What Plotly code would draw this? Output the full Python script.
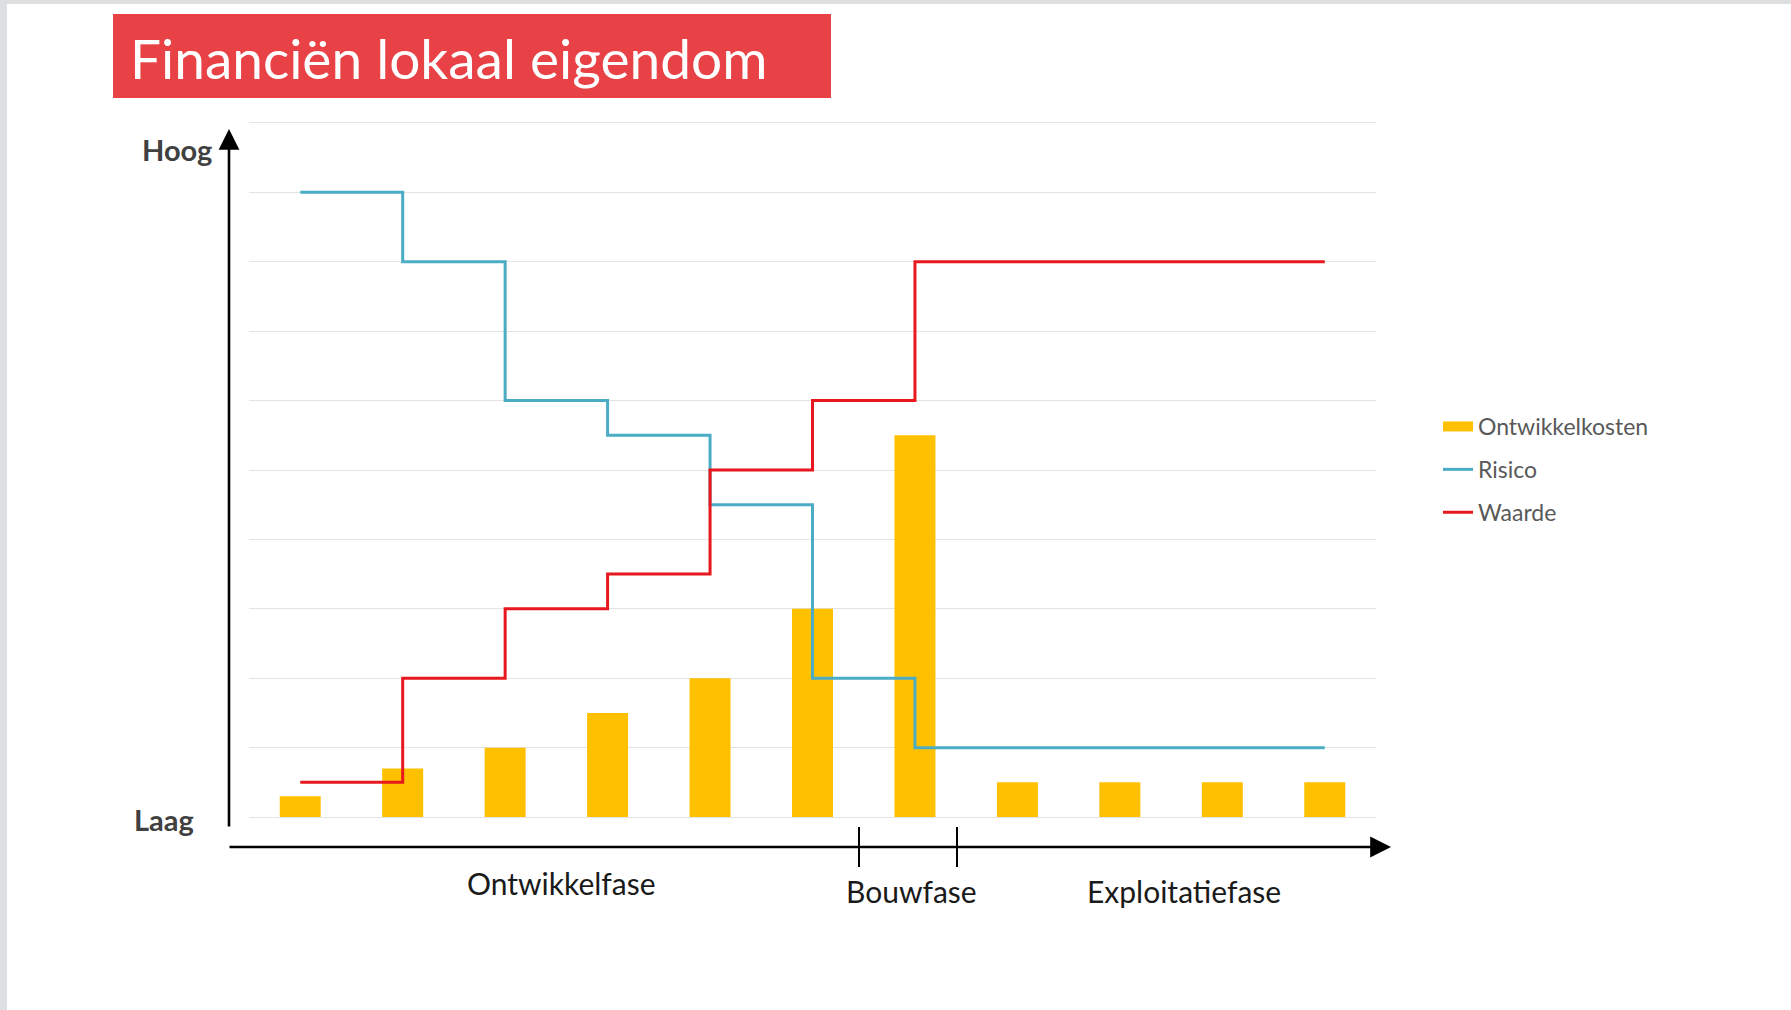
import plotly.graph_objects as go

# ---------------- data ----------------
categories = list(range(11))
ontwikkelkosten = [0.3, 0.7, 1.0, 1.5, 2.0, 3.0, 5.5, 0.5, 0.5, 0.5, 0.5]
risico = [9, 8, 6, 5.5, 4.5, 2, 1, 1, 1, 1, 1]
waarde = [0.5, 2, 3, 3.5, 5, 6, 8, 8, 8, 8, 8]
phase_labels = ["Ontwikkelfase", "Bouwfase", "Exploitatiefase"]
title_text = "Financiën lokaal eigendom"

# ---------------- layout geometry (pixels) ----------------
W, H = 1791, 1010
L, R, T, B = 249, 1376, 116, 824


def px(x):
    return (x - L) / (R - L)


def py(y):
    return (B - y) / (B - T)


FONT = "Lato"
BAR_COLOR = "#FFC000"
fig = go.Figure()
fig.add_trace(go.Bar(
    x=categories, y=ontwikkelkosten, name="Ontwikkelkosten",
    marker=dict(color=BAR_COLOR, line=dict(width=0)), width=0.4,
    legendgroup="a", showlegend=False,
))
# legend-only entry so the swatch is a wide rectangle like the original
fig.add_trace(go.Scatter(
    x=[None], y=[None], name="Ontwikkelkosten", mode="lines",
    line=dict(color=BAR_COLOR, width=11), legendgroup="a", showlegend=True,
))
fig.add_trace(go.Scatter(
    x=categories, y=risico, name="Risico", mode="lines",
    line=dict(color="#4BACC6", width=3, shape="hv"), legendgroup="b",
))
fig.add_trace(go.Scatter(
    x=categories, y=waarde, name="Waarde", mode="lines",
    line=dict(color="#E8191E", width=3, shape="hv"), legendgroup="c",
))

shapes = []
# gray border strips
shapes.append(dict(type="rect", xref="paper", yref="paper", x0=px(0), x1=px(W), y0=py(0), y1=py(4),
                   fillcolor="#DEDFE1", line=dict(width=0), layer="below"))
shapes.append(dict(type="rect", xref="paper", yref="paper", x0=px(0), x1=px(7), y0=py(0), y1=py(H),
                   fillcolor="#DEDFE1", line=dict(width=0), layer="below"))
# title box
shapes.append(dict(type="rect", xref="paper", yref="paper", x0=px(113), x1=px(831), y0=py(98), y1=py(14),
                   fillcolor="#E84146", line=dict(width=0)))
# phase ticks
for xt in (859, 957):
    shapes.append(dict(type="line", xref="paper", yref="paper", x0=px(xt), x1=px(xt), y0=py(827), y1=py(867),
                       line=dict(color="#000000", width=2)))

annotations = []
annotations.append(dict(xref="paper", yref="paper", x=px(128), y=py(58), text=title_text, showarrow=False,
                        xanchor="left", yanchor="middle", font=dict(family=FONT, size=55, color="#FFFFFF")))
# axis arrows
annotations.append(dict(xref="paper", yref="paper", x=px(229), y=py(129), ax=0, ay=699, text="",
                        showarrow=True, arrowhead=2, arrowsize=1.6, arrowwidth=2.6, arrowcolor="#000000"))
annotations.append(dict(xref="paper", yref="paper", x=px(1391), y=py(847), ax=-1163, ay=0, text="",
                        showarrow=True, arrowhead=2, arrowsize=1.6, arrowwidth=2.6, arrowcolor="#000000"))
# Hoog / Laag
annotations.append(dict(xref="paper", yref="paper", x=px(214), y=py(149), text="<b>Hoog</b>", showarrow=False,
                        xanchor="right", yanchor="middle", font=dict(family=FONT, size=29, color="#404040")))
annotations.append(dict(xref="paper", yref="paper", x=px(196), y=py(819), text="<b>Laag</b>", showarrow=False,
                        xanchor="right", yanchor="middle", font=dict(family=FONT, size=29, color="#404040")))
# phase labels
for lab, xc, yc in zip(phase_labels, (561, 911, 1184), (883, 891, 891)):
    annotations.append(dict(xref="paper", yref="paper", x=px(xc), y=py(yc), text=lab, showarrow=False,
                            xanchor="center", yanchor="middle", font=dict(family=FONT, size=30, color="#1A1A1A")))

fig.update_layout(
    width=W, height=H,
    margin=dict(l=L, r=W - R, t=T, b=H - B, pad=0),
    paper_bgcolor="#FFFFFF", plot_bgcolor="#FFFFFF",
    showlegend=True,
    legend=dict(x=px(1438), y=py(405), xanchor="left", yanchor="top",
                font=dict(family=FONT, size=23, color="#595959"),
                tracegroupgap=10, traceorder="grouped", bgcolor="rgba(0,0,0,0)"),
    xaxis=dict(range=[-0.5, 10.5], showgrid=False, zeroline=False, showticklabels=False, ticks="",
               showline=False, fixedrange=True),
    yaxis=dict(range=[-0.1, 10.1], tickvals=list(range(11)), showgrid=True, gridcolor="#E3E3E3", gridwidth=1,
               zeroline=False, showticklabels=False, ticks="", showline=False, fixedrange=True),
    shapes=shapes, annotations=annotations,
    font=dict(family=FONT),
)

fig.write_html("out.html", config={"displayModeBar": False},
               post_script="document.body.style.margin='0';document.body.style.padding='0';")
